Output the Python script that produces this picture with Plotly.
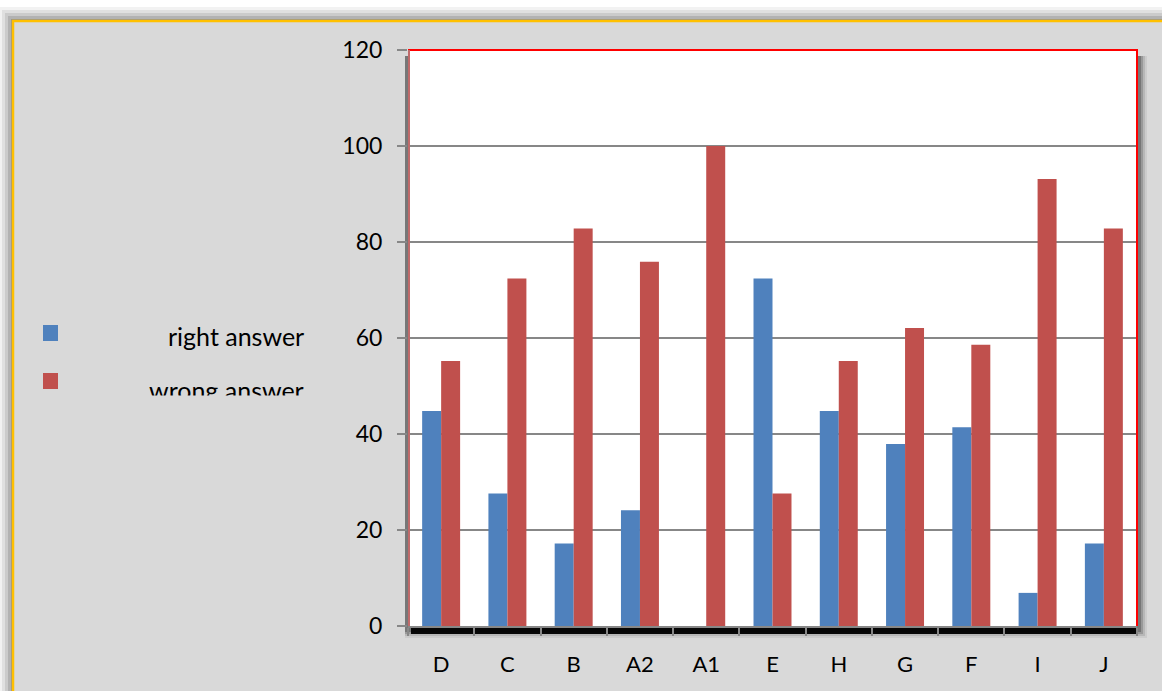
import plotly.graph_objects as go

categories = ["D", "C", "B", "A2", "A1", "E", "H", "G", "F", "I", "J"]
series_names = ["right answer", "wrong answer"]
right_answer = [44.8, 27.6, 17.2, 24.1, 0, 72.4, 44.8, 37.9, 41.4, 6.9, 17.2]
wrong_answer = [55.2, 72.4, 82.8, 75.9, 100, 27.6, 55.2, 62.1, 58.6, 93.1, 82.8]
colors = ["#4f81bd", "#c0504d"]
y_ticks = [0, 20, 40, 60, 80, 100, 120]

W, H = 1162, 691
L, R, T, B = 408, 1137, 50, 626


def X(px):
    return (px - L) / (R - L)


def Y(py):
    return (B - py) / (B - T)


FONT = "Lato"

fig = go.Figure()
for name, vals, c in zip(series_names, [right_answer, wrong_answer], colors):
    fig.add_trace(go.Bar(x=categories, y=vals, name=name, marker=dict(color=c, line=dict(width=0)),
                         showlegend=False))

shapes = []
# outer shadow (top / left)
for d, op in [(14, 0.05), (11, 0.07), (8, 0.09), (5, 0.12), (2, 0.16)]:
    shapes.append(dict(type="rect", xref="paper", yref="paper", layer="below",
                       x0=X(13 - d), y0=Y(21 - d), x1=X(1300), y1=Y(800),
                       fillcolor=f"rgba(0,0,0,{op})", line=dict(width=0)))
# outer frame
shapes.append(dict(type="rect", xref="paper", yref="paper", layer="below",
                   x0=X(13), y0=Y(21), x1=X(1300), y1=Y(800),
                   fillcolor="#d9d9d9", line=dict(color="#ffc000", width=2.5)))
# plot area shadow (bottom/right)
for d, op in [(10, 0.06), (8, 0.10), (6, 0.16), (4, 0.22)]:
    shapes.append(dict(type="rect", xref="paper", yref="paper", layer="below",
                       x0=X(405), y0=Y(56), x1=X(1137 + d), y1=Y(628 + d),
                       fillcolor=f"rgba(0,0,0,{op})", line=dict(width=0)))
shapes.append(dict(type="rect", xref="paper", yref="paper", layer="below",
                   x0=X(411), y0=Y(600), x1=X(1137), y1=Y(634),
                   fillcolor="rgba(0,0,0,0.95)", line=dict(width=0)))
# plot area white background
shapes.append(dict(type="rect", xref="paper", yref="paper", layer="below",
                   x0=0, y0=0, x1=1, y1=1, fillcolor="white", line=dict(width=0)))
# red border (top, right) and left
shapes.append(dict(type="path", xref="paper", yref="paper", layer="above",
                   path=f"M {X(408)},{Y(50)} L {X(1137)},{Y(50)} L {X(1137)},{Y(626)}",
                   line=dict(color="#ff0000", width=2)))
shapes.append(dict(type="line", xref="paper", yref="paper", layer="above",
                   x0=X(409), y0=Y(50), x1=X(409), y1=Y(626),
                   line=dict(color="#c06a6a", width=2)))
# legend squares
shapes.append(dict(type="rect", xref="paper", yref="paper", layer="above",
                   x0=X(43), y0=Y(325), x1=X(58), y1=Y(341),
                   fillcolor=colors[0], line=dict(width=0)))
shapes.append(dict(type="rect", xref="paper", yref="paper", layer="above",
                   x0=X(43), y0=Y(373), x1=X(58), y1=Y(389),
                   fillcolor=colors[1], line=dict(width=0)))

annotations = [
    dict(text=series_names[0], xref="paper", yref="paper", x=X(306), y=Y(336),
         xanchor="right", yanchor="middle", showarrow=False,
         font=dict(family=FONT, size=25, color="#000")),
    dict(text=series_names[1], xref="paper", yref="paper", x=X(306), y=Y(390),
         xanchor="right", yanchor="middle", showarrow=False,
         font=dict(family=FONT, size=25, color="#000")),
    # clip cover for the cut-off legend entry
    dict(text=" ", xref="paper", yref="paper", x=X(180), y=Y(395),
         xanchor="center", yanchor="top", showarrow=False, width=280, height=30,
         bgcolor="#d9d9d9", borderpad=0, font=dict(size=10)),
]

fig.update_layout(
    width=W, height=H,
    margin=dict(l=L, r=W - R, t=T, b=H - B, pad=0),
    paper_bgcolor="white",
    plot_bgcolor="rgba(0,0,0,0)",
    barmode="group",
    bargap=0.427,
    bargroupgap=0,
    shapes=shapes,
    annotations=annotations,
    font=dict(family=FONT, size=23, color="#000"),
    xaxis=dict(type="category", tickson="boundaries", ticks="outside", ticklen=8,
               tickcolor="#878787", tickwidth=2, showline=True, linecolor="#878787",
               linewidth=2, showgrid=False, ticklabelstandoff=18,
               tickfont=dict(family=FONT, size=22, color="#000")),
    yaxis=dict(range=[0, 120], tickvals=y_ticks, ticks="outside", ticklen=10,
               tickcolor="#878787", tickwidth=2, showline=False, gridcolor="#878787",
               gridwidth=1.5, zeroline=False, ticklabelstandoff=10,
               tickfont=dict(family=FONT, size=23, color="#000")),
)

fig.write_html("out.html", config={"displayModeBar": False},
               post_script="document.body.style.margin='0';document.body.style.overflow='hidden';")
